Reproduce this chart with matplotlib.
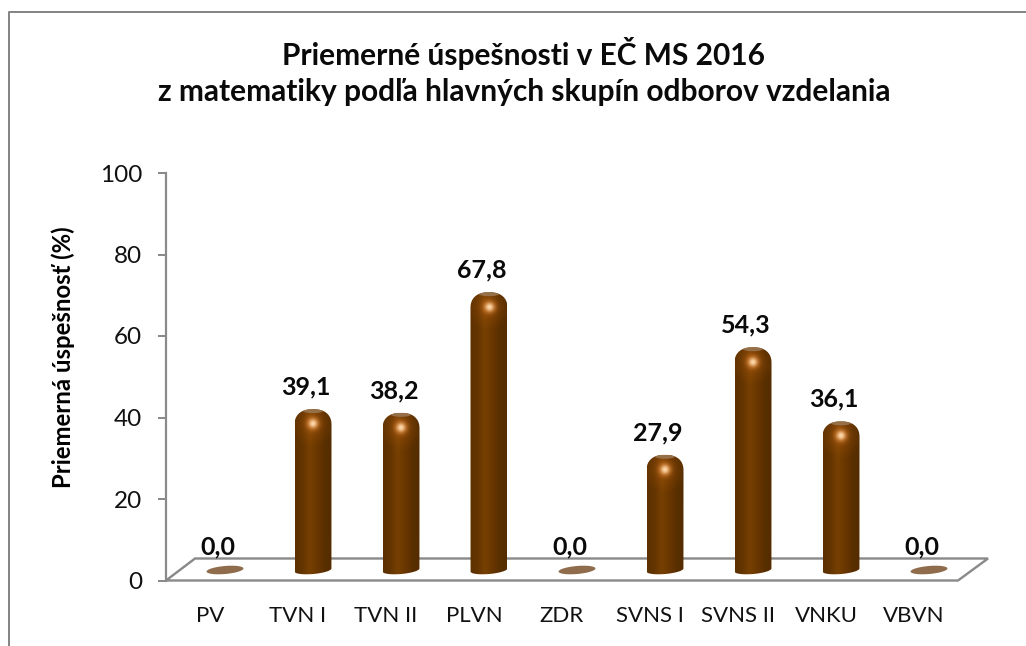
#!/usr/bin/env python3
"""Priemerne uspesnosti - valcovy graf s 3D vzhladom (matplotlib)."""
import numpy as np
import matplotlib
matplotlib.use("Agg")
import matplotlib.pyplot as plt
from matplotlib.colors import LinearSegmentedColormap
from matplotlib.lines import Line2D
from matplotlib.patches import Polygon

categories = ["PV", "TVN I", "TVN II", "PLVN", "ZDR", "SVNS I", "SVNS II", "VNKU", "VBVN"]
values = [0.0, 39.1, 38.2, 67.8, 0.0, 27.9, 54.3, 36.1, 0.0]
y_ticks = [0, 20, 40, 60, 80, 100]
title_lines = ["Priemerné úspešnosti v EČ MS 2016",
               "z matematiky podľa hlavných skupín odborov vzdelania"]
y_label = "Priemerná úspešnosť (%)"

W, H = 1026, 646
AX_L, AX_R, AX_T, AX_B = 166, 958, 173, 580.5
GRAY = "#8a8a8a"
PT = 72 / 100  # px -> pt at dpi 100

plt.rcParams["font.family"] = ["Lato", "DejaVu Sans"]

fig = plt.figure(figsize=(W / 100, H / 100), dpi=100, facecolor="white")
ax = fig.add_axes([AX_L / W, 1 - AX_B / H, (AX_R - AX_L) / W, (AX_B - AX_T) / H])
ax.set_xlim(-0.5, len(categories) - 0.5)
ax.set_ylim(0, 100)

# px sizes -> data units
sx = (len(categories)) / (AX_R - AX_L)
sy = 100 / (AX_B - AX_T)

# outer frame, only the top and left side are visible
fig.add_artist(Line2D([9 / W, 9 / W, 1], [0, 1 - 12 / H, 1 - 12 / H],
                      transform=fig.transFigure, color="#868686", lw=2 * PT))

# axes
for name in ["top", "right", "bottom"]:
    ax.spines[name].set_visible(False)
ax.spines["left"].set_color(GRAY)
ax.spines["left"].set_linewidth(2.2 * PT)
ax.set_yticks(y_ticks)
ax.tick_params(axis="y", length=8 * PT, width=2 * PT, color=GRAY, pad=16 * PT,
               labelsize=17.5, labelcolor="#111111")
ax.set_xticks(range(len(categories)))
ax.set_xticklabels(categories, fontsize=16, color="#111111")
ax.tick_params(axis="x", length=0, pad=25 * PT)
ax.set_ylabel(y_label, fontsize=17.2, fontweight="bold", labelpad=0)
ax.yaxis.set_label_coords((75 - AX_L) / (AX_R - AX_L), 1 - (357 - AX_T) / (AX_B - AX_T))

# floor
x0, x1 = -0.5, len(categories) - 0.5
floor = Polygon([(x0, 0), (x1, 0), (x1 + 30 * sx, 22 * sy), (x0 + 29 * sx, 22 * sy)],
                closed=True, fc="white", ec=GRAY, lw=2.4 * PT, clip_on=False, zorder=1)
ax.add_patch(floor)

BAR_DX = 15 * sx          # 3D shift of the bars
LABEL_DX = 8 * sx         # data labels sit a bit right of the tick
BASE_DY = 10.5 * sy       # centre of the bar foot above the axis
TOP_DY = 2.95             # bar top above the value
HALF_W = 18.5
TILT = np.deg2rad(5)


def foot_outline(t):
    """Tilted ellipse of the cylinder foot, px offsets from its centre."""
    a, b = HALF_W, 4.0
    ex = a * np.cos(t) * np.cos(TILT) - b * np.sin(t) * np.sin(TILT)
    ey = a * np.cos(t) * np.sin(TILT) + b * np.sin(t) * np.cos(TILT)
    return ex, ey


cmap_body = LinearSegmentedColormap.from_list(
    "body", ["#5c3100", "#643500", "#784003", "#693700", "#5a3000", "#532c00"])
gx = np.linspace(0, 1, 64)[None, :]

for i, v in enumerate(values):
    cx = i + BAR_DX
    t = np.linspace(0, 2 * np.pi, 80)
    fx, fy = foot_outline(t)
    if v == 0:
        # empty category: only the flat disc on the floor
        ax.add_patch(Polygon(np.column_stack([cx + fx * sx, BASE_DY + fy * sy]),
                             closed=True, fc="#8e6c4c", ec="none", clip_on=False, zorder=2))
    else:
        top = v + TOP_DY
        # outline: foot arc, then rounded dome
        t_low = np.linspace(np.pi, 2 * np.pi, 30)
        lx, ly = foot_outline(t_low)
        t_dome = np.linspace(0, np.pi, 40)
        dx = HALF_W * np.sign(np.cos(t_dome)) * np.abs(np.cos(t_dome)) ** 0.85
        dy = 16 * np.sin(t_dome) ** 0.85
        xs = np.r_[cx + lx * sx, cx + dx * sx]
        ys = np.r_[BASE_DY + ly * sy, top - 16 * sy + dy * sy]
        shape = Polygon(np.column_stack([xs, ys]), closed=True, fc="none", ec="none",
                        transform=ax.transData)
        ax.add_patch(shape)
        im = ax.imshow(gx, cmap=cmap_body, aspect="auto", interpolation="bilinear",
                       extent=(cx - HALF_W * sx, cx + HALF_W * sx, 0, top),
                       zorder=3)
        im.set_clip_path(shape)

        # glow in the dome, fades out to nothing before the image edge
        n = 80
        yy, xx = np.mgrid[-1:1:n * 1j, -1:1:n * 1j]
        r = np.sqrt(xx ** 2 + yy ** 2)
        core = np.exp(-(r / 0.24) ** 2)
        glow = np.zeros((n, n, 4))
        glow[..., 0] = 0.98
        glow[..., 1] = 0.84 * core + 0.50 * (1 - core)
        glow[..., 2] = 0.66 * core + 0.12 * (1 - core)
        glow[..., 3] = np.clip(0.88 * core + 0.20 * np.clip(1 - r, 0, 1), 0, 1)
        hc = top - 15 * sy
        g = ax.imshow(glow, aspect="auto", interpolation="bilinear", zorder=4,
                      extent=(cx - 24 * sx, cx + 24 * sx, hc - 24 * sy, hc + 24 * sy))
        g.set_clip_path(shape)

        # lighter cap at the very top
        t_cap = np.linspace(0, 2 * np.pi, 40)
        cap = Polygon(np.column_stack([cx + 10 * np.cos(t_cap) * sx,
                                       top - 1.8 * sy + 2.2 * np.sin(t_cap) * sy]),
                      closed=True, fc="#9a7854", ec="none", alpha=0.85, zorder=5)
        ax.add_patch(cap)
        cap.set_clip_path(shape)

    ax.text(i + LABEL_DX, v + TOP_DY + 22 * sy, f"{v:.1f}".replace(".", ","),
            ha="center", va="center", fontsize=18, fontweight="bold", color="#0a0a0a", zorder=6)

ax.set_xlim(-0.5, len(categories) - 0.5)
ax.set_ylim(0, 100)

# title
fig.text(524 / W, 1 - 53 / H, title_lines[0], ha="center", va="center",
         fontsize=21.5, fontweight="bold", color="#0a0a0a")
fig.text(524 / W, 1 - 92 / H, title_lines[1], ha="center", va="center",
         fontsize=21.5, fontweight="bold", color="#0a0a0a")

fig.savefig("out.png", dpi=100, facecolor="white")
plt.close(fig)
